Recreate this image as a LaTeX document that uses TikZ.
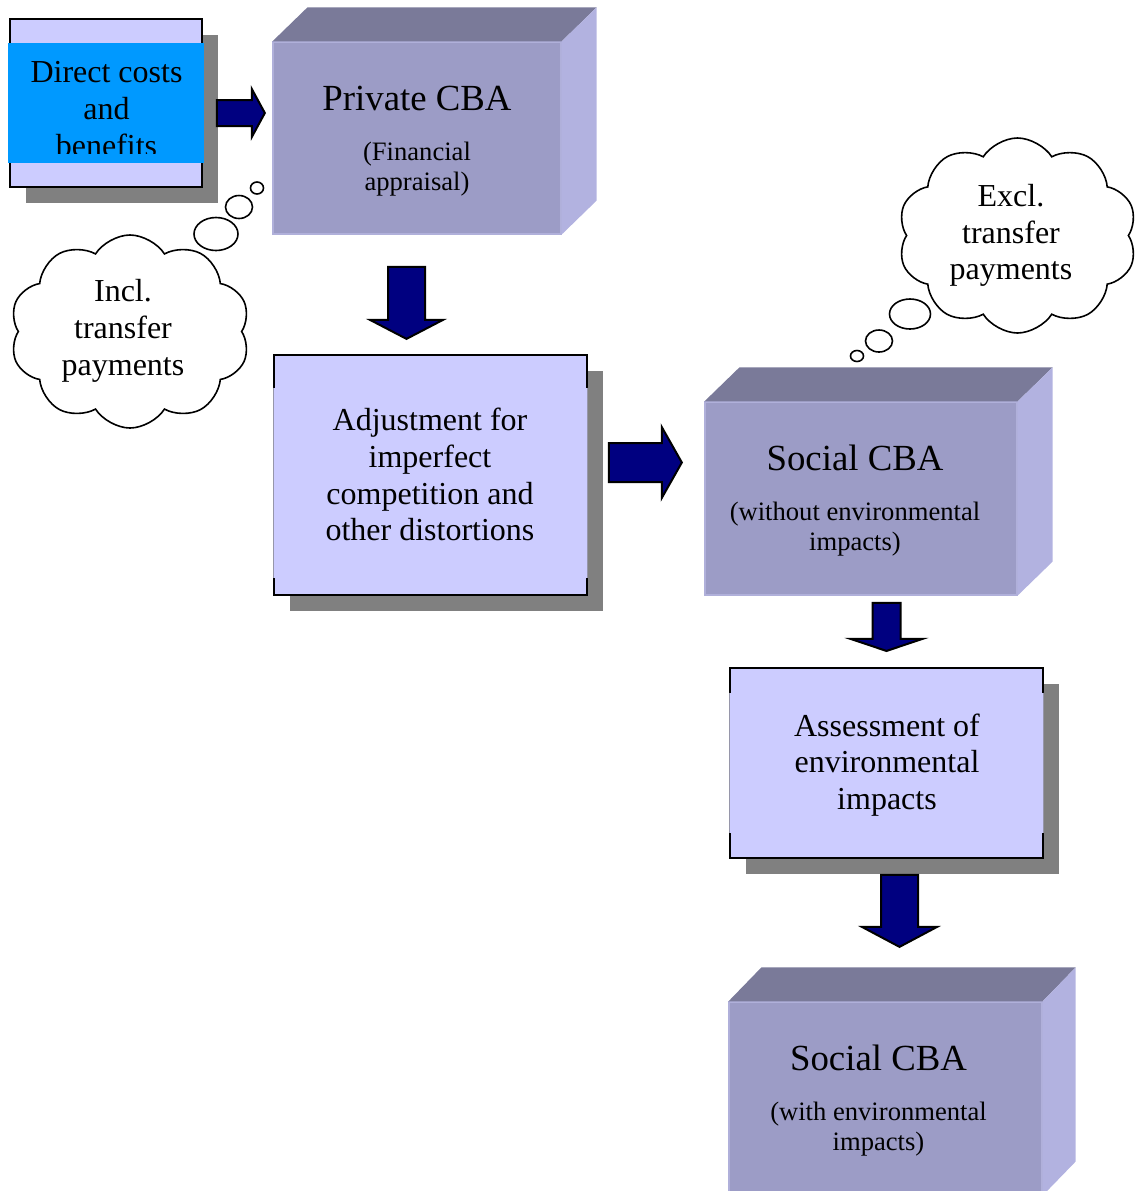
\documentclass[tikz,border=0pt]{standalone}
\usepackage{fontspec}
\setmainfont{Liberation Serif}
\usetikzlibrary{shapes.geometric,shapes.symbols,shapes.arrows,shadows,calc}
\definecolor{lav}{RGB}{204,204,255}
\definecolor{band}{RGB}{0,153,255}
\definecolor{shad}{RGB}{128,128,128}
\definecolor{navy}{RGB}{0,0,128}
\definecolor{cfront}{RGB}{156,156,198}
\definecolor{ctop}{RGB}{122,122,153}
\definecolor{cright}{RGB}{178,178,224}
\definecolor{cedge}{RGB}{176,176,218}
\definecolor{sidegray}{RGB}{150,150,170}
\newcommand\fbody{\fontsize{16}{18.4}\selectfont}
\newcommand\fttl{\fontsize{18.4}{22}\selectfont}
\newcommand\fsub{\fontsize{13.3}{15}\selectfont}
\newcommand\cubefaces[3]{%
  \fill[ctop] (#1.north west) -- ++(#2,-#3) -- ($(#1.north east)+(#2,-#3)$) -- (#1.north east) -- cycle;
  \fill[cright] (#1.north east) -- ++(#2,-#3) -- ($(#1.south east)+(#2,-#3)$) -- (#1.south east) -- cycle;}
\newcommand\gapborder[3]{%
  \draw[bord] ($(#1.north west)+(0,#2)$) -- (#1.north west) -- (#1.north east) -- ($(#1.north east)+(0,#2)$);
  \draw[bord] ($(#1.south west)+(0,-#3)$) -- (#1.south west) -- (#1.south east) -- ($(#1.south east)+(0,-#3)$);
  \draw[sideln] ($(#1.north west)+(0,#2)$) -- ($(#1.south west)+(0,-#3)$);
  \draw[sideln] ($(#1.north east)+(0,#2)$) -- ($(#1.south east)+(0,-#3)$);}
\begin{document}
\begin{tikzpicture}[x=0.5pt,y=-0.5pt,
  box/.style={fill=lav, inner sep=0pt},
  shadowed/.style={general shadow={fill=shad, shadow xshift=8pt, shadow yshift=-8pt}},
  front/.style={fill=cfront, draw=cedge, line width=0.6pt, inner sep=0pt},
  bord/.style={draw=black, line width=1pt},
  sideln/.style={draw=sidegray, line width=0.5pt},
  barrow/.style={single arrow, fill=navy, draw=black, line width=1pt, inner xsep=0pt,
    single arrow head indent=0pt, minimum width=0pt, anchor=tip},
  txt/.style={inner sep=0pt, align=center, font=\fbody},
  ttl/.style={inner sep=0pt, font=\fttl, anchor=base},
  sub/.style={inner sep=0pt, font=\fsub, anchor=base},
  cloudshape/.style={cloud, draw, line width=0.8pt, fill=white, cloud puffs=10,
    cloud puff arc=115, cloud ignores aspect, inner sep=0pt},
  bubble/.style={ellipse, draw, line width=0.8pt, fill=white, inner sep=0pt}]
\path[use as bounding box] (0,0) rectangle (1137,1191);
\clip (0,0) rectangle (1137,1191);

% Direct costs and benefits
\node[box, shadowed, draw=black, line width=1pt, minimum width=96pt, minimum height=84pt] (dcb) at (106,103) {};
\fill[band] ($(dcb.west)+(-1.2,-60)$) rectangle ($(dcb.east)+(1.2,60)$);
\begin{scope}
  \clip (8,43) rectangle (204,153);
  \node[txt] (dcbt) at (106.5,109) {Direct costs\\and\\benefits};
\end{scope}

% arrow to private CBA
\node[barrow, minimum height=24pt, inner ysep=6pt, single arrow head extend=5.5pt,
  single arrow tip angle=123] (a1) at (266,113) {};

% Private CBA
\node[front, minimum width=144pt, minimum height=96pt] (pcba) at (417,138) {};
\cubefaces{pcba}{35}{34}
\node[ttl] (pcbat) at ($(pcba.north)+(0,69)$) {Private CBA};
\node[sub] (pcbas1) at ($(pcba.north)+(0,119.5)$) {(Financial};
\node[sub] (pcbas2) at ($(pcba.north)+(0,149.5)$) {appraisal)};

% left cloud
\node[cloudshape, minimum width=120pt, minimum height=96.5pt] (cl1) at (130,331.5) {};
\node[txt] (cl1t) at (123,331) {Incl.\\transfer\\payments};
\node[bubble, minimum width=22pt, minimum height=16.5pt] (lb3) at (216,234) {};
\node[bubble, minimum width=13.5pt, minimum height=11.5pt] (lb2) at (239,207) {};
\node[bubble, minimum width=6.5pt, minimum height=6pt] (lb1) at (257,188) {};

% arrow down to adjustment
\node[barrow, rotate=-90, minimum height=36pt, inner ysep=8.75pt, single arrow head extend=9pt,
  single arrow tip angle=125] (a2) at (406.5,340) {};

% Adjustment box
\node[box, shadowed, minimum width=156.5pt, minimum height=120pt] (adj) at (430.5,475) {};
\gapborder{adj}{33}{17}
\node[txt] (adjt) at (430,474.5) {Adjustment for\\imperfect\\competition and\\other distortions};

% arrow to social CBA
\node[barrow, minimum height=36.5pt, inner ysep=9.25pt, single arrow head extend=8pt,
  single arrow tip angle=121] (a3) at (683,462.5) {};

% right cloud
\node[cloudshape, minimum width=119.5pt, minimum height=97.5pt] (cl2) at (1017.5,235.5) {};
\node[txt] (cl2t) at (1011,235.5) {Excl.\\transfer\\payments};
\node[bubble, minimum width=20.5pt, minimum height=15pt] (rb3) at (910,314) {};
\node[bubble, minimum width=13.5pt, minimum height=11pt] (rb2) at (879,341) {};
\node[bubble, minimum width=6.5pt, minimum height=5.5pt] (rb1) at (857,356) {};

% Social CBA (without)
\node[front, minimum width=156pt, minimum height=96.5pt] (scba) at (861,498.5) {};
\cubefaces{scba}{35}{34}
\node[ttl] (scbat) at ($(scba.north)+(-6,69)$) {Social CBA};
\node[sub] (scbas1) at ($(scba.north)+(-6,119.5)$) {(without environmental};
\node[sub] (scbas2) at ($(scba.north)+(-6,149.5)$) {impacts)};

% arrow down to assessment
\node[barrow, rotate=-90, minimum height=24pt, inner ysep=6.5pt, single arrow head extend=11pt,
  single arrow tip angle=143] (a4) at (886.5,652) {};

% Assessment box
\node[box, shadowed, minimum width=156.5pt, minimum height=95pt] (ass) at (886.5,763) {};
\gapborder{ass}{25}{25}
\node[txt] (asst) at (887,765) {Assessment of\\environmental\\impacts};

% arrow down to final
\node[barrow, rotate=-90, minimum height=36pt, inner ysep=8.75pt, single arrow head extend=9.5pt,
  single arrow tip angle=124] (a5) at (899.5,948) {};

% Social CBA (with)
\node[front, minimum width=156.5pt, minimum height=96.5pt] (scbb) at (885.5,1098.5) {};
\cubefaces{scbb}{33}{34}
\node[ttl] (scbbt) at ($(scbb.north)+(-7,69)$) {Social CBA};
\node[sub] (scbbs1) at ($(scbb.north)+(-7,119.5)$) {(with environmental};
\node[sub] (scbbs2) at ($(scbb.north)+(-7,149.5)$) {impacts)};
\end{tikzpicture}
\end{document}
